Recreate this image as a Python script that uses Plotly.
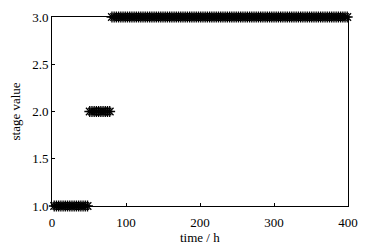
import plotly.graph_objects as go

stage1_time = [3, 6, 9, 12, 15, 18, 21, 24, 27, 30, 33, 36, 39, 42, 45, 48]
stage1_value = [1.0] * len(stage1_time)

stage2_time = [51, 54, 57, 60, 63, 66, 69, 72, 75, 78]
stage2_value = [2.0] * len(stage2_time)

stage3_time = [81, 84, 87, 90, 93, 96, 99, 102, 105, 108, 111, 114, 117, 120,
               123, 126, 129, 132, 135, 138, 141, 144, 147, 150, 153, 156, 159,
               162, 165, 168, 171, 174, 177, 180, 183, 186, 189, 192, 195, 198,
               201, 204, 207, 210, 213, 216, 219, 222, 225, 228, 231, 234, 237,
               240, 243, 246, 249, 252, 255, 258, 261, 264, 267, 270, 273, 276,
               279, 282, 285, 288, 291, 294, 297, 300, 303, 306, 309, 312, 315,
               318, 321, 324, 327, 330, 333, 336, 339, 342, 345, 348, 351, 354,
               357, 360, 363, 366, 369, 372, 375, 378, 381, 384, 387, 390, 393,
               396, 399]
stage3_value = [3.0] * len(stage3_time)

x_ticks = [0, 100, 200, 300, 400]
y_ticks = [1.0, 1.5, 2.0, 2.5, 3.0]

times = stage1_time + stage2_time + stage3_time
values = stage1_value + stage2_value + stage3_value

fig = go.Figure()
fig.add_trace(go.Scatter(
    x=times, y=values, mode="markers",
    marker=dict(symbol="asterisk-open", size=9, color="black",
                line=dict(color="black", width=1.3)),
    cliponaxis=False, showlegend=False,
))

font = dict(family="Liberation Serif, Times New Roman, serif", size=13, color="black")
axis_common = dict(showline=True, linecolor="black", linewidth=1, mirror=True,
                   ticks="inside", ticklen=3, tickcolor="black", showgrid=False,
                   zeroline=False, tickfont=font, automargin=False)

fig.update_layout(
    width=381, height=248,
    margin=dict(l=52, r=33, t=17, b=42, autoexpand=False),
    paper_bgcolor="white", plot_bgcolor="white",
    font=font,
    xaxis=dict(range=[0, 400], tickvals=x_ticks, ticklabelstandoff=4, **axis_common),
    yaxis=dict(range=[1, 3], tickvals=y_ticks, tickformat=".1f", **axis_common),
    annotations=[
        dict(text="time / h", xref="paper", yref="paper", x=0.5, y=0,
             xanchor="center", yanchor="middle", yshift=-31,
             showarrow=False, font=font),
        dict(text="stage value", xref="paper", yref="paper", x=0, y=0.5,
             xanchor="center", yanchor="middle", xshift=-37, textangle=-90,
             showarrow=False, font=font),
    ],
)

fig.write_html("out.html")
